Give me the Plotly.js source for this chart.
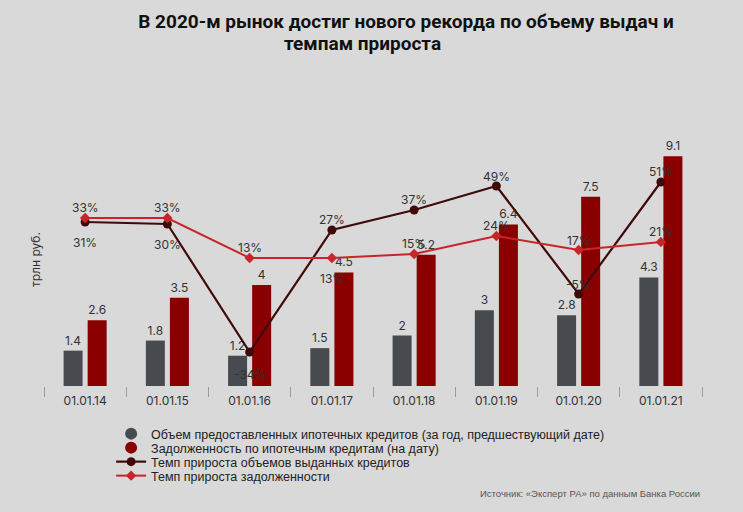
<!DOCTYPE html>
<html>
<head>
<meta charset="utf-8">
<script src="https://cdn.plot.ly/plotly-3.0.1.min.js"></script>
<style>html,body{margin:0;padding:0;background:#d9d9d9;}</style>
</head>
<body>
<div id="chart" style="width:743px;height:512px;"></div>
<script>
// ---- data ----
const categories = ["01.01.14","01.01.15","01.01.16","01.01.17","01.01.18","01.01.19","01.01.20","01.01.21"];
const issuedVolume = [1.4, 1.8, 1.2, 1.5, 2, 3, 2.8, 4.3];          // трлн руб.
const debtVolume   = [2.6, 3.5, 4, 4.5, 5.2, 6.4, 7.5, 9.1];        // трлн руб.
const issuedGrowth = [31, 30, -34, 27, 37, 49, -5, 51];             // %
const debtGrowth   = [33, 33, 13, 13, 15, 24, 17, 21];              // %

const seriesNames = [
  "Объем предоставленных ипотечных кредитов (за год, предшествующий дате)",
  "Задолженность по ипотечным кредитам (на дату)",
  "Темп прироста объемов выданных кредитов",
  "Темп прироста задолженности"
];
const titleLine1 = "В 2020-м рынок достиг нового рекорда по объему выдач и";
const titleLine2 = "темпам прироста";
const yTitle = "трлн руб.";
const sourceText = "Источник: «Эксперт РА» по данным Банка России";

// ---- styles ----
const cGrey = "#474b50", cDark = "#8a0000", cLineDark = "#400a0a", cLineRed = "#c8252b";
const labelFont = {family: "Inter, Roboto, sans-serif", size: 12, color: "#333"};
const titleFont = {family: "Roboto, sans-serif", size: 19, weight: 700, color: "#111"};
// vertical offsets (px) of the percentage labels relative to their markers
const issuedShift = [-20, -20, -22, 11, 11, 10, 10, 11];
const debtShift   = [11, 11, 11, -20, 11, 11, 10, 11];

const traces = [
  {type: "bar", x: categories, y: issuedVolume, name: seriesNames[0], showlegend: false,
   marker: {color: cGrey}, text: issuedVolume.map(String), textposition: "outside",
   textfont: labelFont, cliponaxis: false, hoverinfo: "skip"},
  {type: "bar", x: categories, y: debtVolume, name: seriesNames[1], showlegend: false,
   marker: {color: cDark}, text: debtVolume.map(String), textposition: "outside",
   textfont: labelFont, cliponaxis: false, hoverinfo: "skip"},
  {type: "scatter", mode: "lines+markers", x: categories, y: issuedGrowth, yaxis: "y2",
   name: seriesNames[2], legend: "legend3", cliponaxis: false,
   line: {color: cLineDark, width: 2.2}, marker: {color: cLineDark, size: 9, symbol: "circle"}},
  {type: "scatter", mode: "lines+markers", x: categories, y: debtGrowth, yaxis: "y2",
   name: seriesNames[3], legend: "legend4", cliponaxis: false,
   line: {color: cLineRed, width: 2}, marker: {color: cLineRed, size: 8, symbol: "diamond"}},
  // legend-only entries for the bar series (round symbols as in the original)
  {type: "scatter", mode: "markers", x: [null], y: [null], name: seriesNames[0], legend: "legend",
   marker: {color: cGrey, size: 12, symbol: "circle"}},
  {type: "scatter", mode: "markers", x: [null], y: [null], name: seriesNames[1], legend: "legend2",
   marker: {color: cDark, size: 12, symbol: "circle"}}
];

const legFont = {family: "Liberation Sans, Arial, sans-serif", size: 12.5, color: "#222"};
function leg(y) {
  return {x: 0.102, xanchor: "left", y: y, yanchor: "middle", bgcolor: "rgba(0,0,0,0)",
          font: legFont, itemwidth: 30, borderwidth: 0};
}

const annotations = [
  {text: titleLine2, xref: "paper", yref: "paper", x: (362-44)/658, y: (386-44)/286,
   xanchor: "center", yanchor: "middle", showarrow: false, font: titleFont},
  {text: yTitle, xref: "paper", yref: "paper", x: (35-44)/658, y: (386-260)/286,
   xanchor: "center", yanchor: "middle", textangle: -90, showarrow: false,
   font: {family: "Inter, Roboto, sans-serif", size: 12, color: "#333"}},
  {text: sourceText, xref: "paper", yref: "paper", x: 1, y: (386-494)/286,
   xanchor: "right", yanchor: "middle", showarrow: false,
   font: {family: "Liberation Sans, Arial, sans-serif", size: 9.5, color: "#555"}}
];
categories.forEach((c, i) => {
  annotations.push({x: c, y: issuedGrowth[i], xref: "x", yref: "y2", text: issuedGrowth[i] + "%",
    showarrow: false, yshift: issuedShift[i], xanchor: "center", yanchor: "middle", font: labelFont});
  annotations.push({x: c, y: debtGrowth[i], xref: "x", yref: "y2", text: debtGrowth[i] + "%",
    showarrow: false, yshift: debtShift[i], xanchor: "center", yanchor: "middle", font: labelFont});
});

const layout = {
  width: 743, height: 512,
  paper_bgcolor: "#d9d9d9", plot_bgcolor: "#d9d9d9",
  margin: {l: 44, r: 41, t: 100, b: 126},
  title: {text: titleLine1, x: 406/743, xanchor: "center", xref: "container",
          y: 1 - 21/512, yanchor: "middle", yref: "container", font: titleFont},
  barmode: "group", bargap: 0.415, bargroupgap: 0.21,
  xaxis: {type: "category", tickson: "boundaries", ticks: "outside", ticklen: 10, tickcolor: "#9a9a9a",
          tickwidth: 1, showline: false, showgrid: false, zeroline: false, ticklabelstandoff: 6,
          tickfont: {family: "Inter, Roboto, sans-serif", size: 12, color: "#333"}},
  yaxis: {range: [0, 286/25.25], visible: false, showgrid: false, zeroline: false},
  yaxis2: {range: [-51, 92], overlaying: "y", side: "right", visible: false, showgrid: false, zeroline: false},
  showlegend: true,
  legend: leg((386-434)/286),
  legend2: leg((386-448)/286),
  legend3: leg((386-462)/286),
  legend4: leg((386-476)/286),
  annotations: annotations
};

Plotly.newPlot("chart", traces, layout, {displayModeBar: false, staticPlot: true});
</script>
</body>
</html>
